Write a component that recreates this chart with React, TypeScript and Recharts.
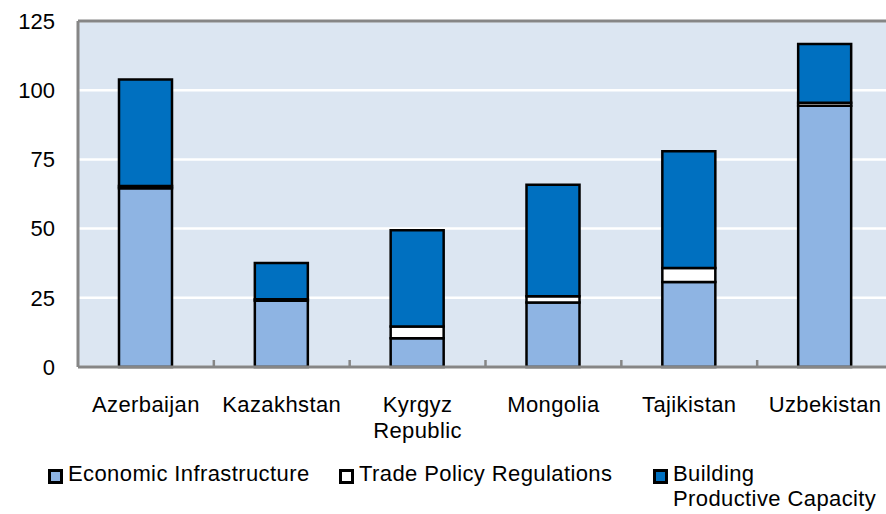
import React from 'react';
import { BarChart, Bar, XAxis, YAxis, CartesianGrid, ReferenceLine, Legend } from 'recharts';

const countries = ['Azerbaijan', 'Kazakhstan', 'Kyrgyz Republic', 'Mongolia', 'Tajikistan', 'Uzbekistan'];
const economicInfrastructure = [64.6, 23.9, 10.4, 23.3, 30.7, 94.4];
const tradePolicyRegulations = [0.8, 0.6, 4.2, 2.3, 5.1, 1.1];
const buildingProductiveCapacity = [38.5, 13.1, 34.8, 40.2, 42.1, 21.2];
const yTicks = [0, 25, 50, 75, 100, 125];

const seriesNames = ['Economic Infrastructure', 'Trade Policy Regulations', 'Building\nProductive Capacity'];
const seriesColors = ['#8EB4E3', '#FFFFFF', '#0070C0'];

const data = countries.map((c, i) => ({
  country: c,
  econ: economicInfrastructure[i],
  trade: tradePolicyRegulations[i],
  building: buildingProductiveCapacity[i],
}));

const CHART_W = 894;
const CHART_H = 514;
const LEFT = 78;
const RIGHT_MARGIN = 1;
const PLOT_W = CHART_W - LEFT - RIGHT_MARGIN;
const BAND = PLOT_W / countries.length;
const FONT = '"Liberation Sans", Arial, sans-serif';
const AXIS_GRAY = '#868686';

const XTick = (props: any) => {
  const { x, y, payload, index } = props;
  const words: string[] = String(payload.value).split(' ');
  return (
    <g>
      {index < countries.length - 1 && (
        <line x1={x + BAND / 2} x2={x + BAND / 2} y1={y - 1} y2={y - 7} stroke={AXIS_GRAY} strokeWidth={2.5} />
      )}
      <text x={x} y={y} textAnchor="middle" fill="#000" fontSize={22} fontFamily={FONT} letterSpacing={0.4}>
        {words.map((w, i) => (
          <tspan key={i} x={x} y={y + 45 + i * 26}>{w}</tspan>
        ))}
      </text>
    </g>
  );
};

const LegendContent = () => {
  const lefts = [48, 339, 653];
  return (
    <div style={{ position: 'relative', width: 886, height: 59, fontFamily: FONT, fontSize: 22, color: '#000', letterSpacing: 0.4 }}>
      {seriesNames.map((name, i) => (
        <div key={i} style={{ position: 'absolute', left: lefts[i], top: 9, display: 'flex', alignItems: 'flex-start' }}>
          <div style={{ width: 9, height: 9, background: seriesColors[i], border: '3px solid #000', marginTop: 5, marginRight: 5, flexShrink: 0 }} />
          <div style={{ whiteSpace: 'pre', lineHeight: '25px', marginTop: -3 }}>{name}</div>
        </div>
      ))}
    </div>
  );
};

export default function App() {
  return (
    <div style={{ position: 'absolute', left: 0, top: 0, width: 886, height: 514, overflow: 'hidden', background: '#fff' }}>
      <BarChart
        width={CHART_W}
        height={CHART_H}
        data={data}
        margin={{ top: 21, right: RIGHT_MARGIN, bottom: 0, left: 0 }}
        barSize={53}
        style={{ fontFamily: FONT }}
      >
        <CartesianGrid vertical={false} stroke="#FFFFFF" strokeWidth={2.5} fill="#DCE6F2" />
        <Bar dataKey="econ" stackId="a" fill={seriesColors[0]} stroke="#000" strokeWidth={2.5} isAnimationActive={false} />
        <Bar dataKey="trade" stackId="a" fill={seriesColors[1]} stroke="#000" strokeWidth={2.5} isAnimationActive={false} />
        <Bar dataKey="building" stackId="a" fill={seriesColors[2]} stroke="#000" strokeWidth={2.5} isAnimationActive={false} />
        <ReferenceLine y={125} stroke={AXIS_GRAY} strokeWidth={3} />
        <XAxis
          dataKey="country"
          interval={0}
          tickLine={false}
          tickSize={0}
          tickMargin={0}
          height={88}
          axisLine={{ stroke: AXIS_GRAY, strokeWidth: 3 }}
          tick={<XTick />}
        />
        <YAxis
          domain={[0, 125]}
          ticks={yTicks}
          width={LEFT}
          tickLine={false}
          tickSize={0}
          tickMargin={23}
          axisLine={{ stroke: AXIS_GRAY, strokeWidth: 3 }}
          tick={{ fill: '#000', fontSize: 22, fontFamily: FONT }}
          interval={0}
        />
        <Legend verticalAlign="bottom" content={<LegendContent />} wrapperStyle={{ height: 59 }} />
      </BarChart>
    </div>
  );
}
